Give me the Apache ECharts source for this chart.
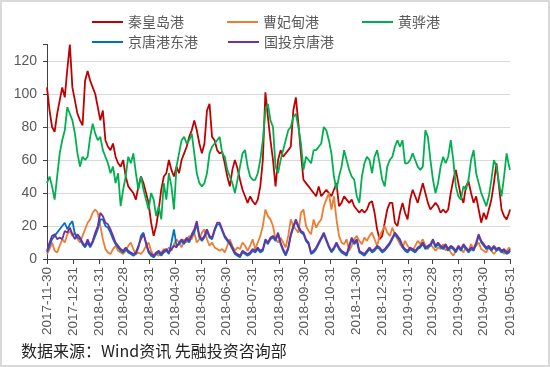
<!DOCTYPE html>
<html><head><meta charset="utf-8">
<script src="https://cdn.jsdelivr.net/npm/echarts@6/dist/echarts.min.js"></script>
<style>html,body{margin:0;padding:0;background:#fff}#c{width:550px;height:367px}</style>
</head><body><div id="c"></div>
<script>
// Series names (legend order)
const names = ['秦皇岛港', '曹妃甸港', '黄骅港', '京唐港东港', '国投京唐港'];
const colors = ['#C00000', '#ED7D31', '#00B050', '#0070C0', '#7030A0'];
// Daily axis from 2017-11-30 to 2019-05-31; values read every 3 days
const firstDay = [2017, 10, 30];
const lastDay = [2019, 4, 31];
const sampleStep = 3;

const qhd = [104,90,80,77,88,96,104,98,115,130,
104,96,88,84,81,108,114,108,104,100,
92,84,90,72,68,66,70,62,58,56,
60,50,44,42,40,36,44,50,46,40,
34,22,14,20,30,42,50,52,60,54,
50,56,52,60,64,68,74,78,84,78,
70,64,70,90,94,74,72,66,64,65,
58,50,44,54,60,55,48,42,38,34,
38,35,33,36,44,60,101,86,72,60,
44,60,66,62,64,66,68,90,98,82,
64,48,46,44,42,40,38,44,38,40,
42,40,38,42,46,32,34,38,36,34,
36,32,30,28,30,28,30,34,35,28,
18,12,14,22,30,34,34,22,20,28,
34,28,24,36,42,38,34,40,46,40,
34,30,32,34,32,28,30,28,30,40,
48,54,46,38,34,44,47,40,34,38,
30,22,28,24,30,36,46,58,44,30,
26,24,28,30];

const cfd = [3,6,10,5,4,8,12,10,15,17,
14,16,12,10,14,18,22,24,28,30,
28,20,12,6,4,3,6,8,5,4,
3,5,8,10,6,3,4,3,5,8,
10,5,2,3,2,4,6,5,7,5,
9,12,10,7,12,10,14,12,16,10,
12,16,18,12,8,10,7,6,5,6,
4,8,12,8,5,7,6,10,8,5,
8,12,6,10,14,20,30,26,24,20,
12,10,13,10,7,14,24,20,18,16,
28,30,20,17,15,24,19,22,24,32,
36,40,30,38,24,14,10,9,12,5,
8,12,14,11,9,13,11,14,16,12,
8,14,17,20,16,14,19,15,12,9,
7,11,8,6,5,8,11,9,12,8,
6,9,7,5,7,6,9,5,7,4,
2,5,8,6,4,7,5,9,6,8,
10,6,5,4,7,5,3,5,7,5,
3,5,7,6];

const hh = [46,50,44,36,50,64,72,78,92,88,
84,76,64,56,62,60,62,74,82,76,
72,74,66,62,58,52,56,46,52,32,
42,50,62,58,64,52,42,50,42,36,
30,40,36,26,32,24,46,36,52,44,
30,56,64,72,74,70,72,76,64,52,
46,44,46,52,64,68,70,72,74,64,
62,54,50,46,40,48,56,64,66,56,
50,48,48,52,60,72,90,94,84,80,
56,52,60,66,72,78,80,86,88,80,
70,54,62,60,58,66,66,68,70,80,
78,72,64,50,42,50,56,66,60,54,
50,48,38,34,50,58,62,60,52,62,
66,58,48,44,56,60,62,68,72,68,
72,58,58,60,64,60,56,54,56,78,
74,60,48,40,46,56,62,58,62,72,
60,44,38,36,44,42,48,60,66,52,
46,40,36,32,38,48,60,56,46,38,
50,64,56,54];

const jtdg = [4,8,12,14,16,18,20,22,18,21,
23,15,13,12,9,7,10,7,10,14,
18,24,24,20,19,16,12,9,7,5,
4,6,4,3,2,3,7,14,16,9,
4,2,1,3,4,2,4,5,3,10,
18,8,9,11,9,12,10,14,16,21,
13,11,13,17,13,12,17,21,21,17,
13,11,9,6,3,2,1,4,3,2,
3,5,4,6,4,5,11,9,12,13,
11,15,9,5,2,6,14,19,23,19,
16,15,11,9,3,4,6,9,12,15,
11,7,4,6,9,6,4,3,2,7,
12,9,11,4,3,2,4,6,4,5,
7,6,4,5,7,9,12,15,13,11,
7,5,4,6,5,4,6,7,9,6,
7,8,11,7,9,7,6,8,5,7,
6,4,7,5,8,6,4,6,5,9,
14,10,8,6,7,5,7,5,6,4,
5,3,4,5];

const gtjt = [5,10,14,15,12,13,12,17,16,19,
15,12,15,13,10,8,12,8,11,16,
20,28,26,22,21,18,14,10,8,6,
5,7,5,4,3,4,8,12,15,10,
5,3,2,4,5,3,5,6,4,6,
8,7,10,12,10,13,11,15,18,23,
14,12,14,18,14,13,18,22,22,18,
14,12,10,7,4,3,2,5,4,3,
4,6,5,7,5,6,12,10,13,14,
12,16,10,6,3,7,15,20,24,20,
17,16,12,10,4,5,7,10,13,16,
12,8,5,7,10,7,5,4,3,8,
13,10,12,5,4,3,5,7,5,6,
8,7,5,6,8,10,13,16,14,12,
8,6,5,7,6,5,7,8,10,7,
8,9,12,8,10,8,7,9,6,8,
7,5,8,6,9,7,5,7,6,10,
15,11,9,7,8,6,8,6,7,5,
6,4,5,6];

const yLabelMax = 120;
const footer = '数据来源：Wind资讯 先融投资咨询部';

// build daily categories
const cats = [];
{
  let t = Date.UTC(firstDay[0], firstDay[1], firstDay[2]);
  const endT = Date.UTC(lastDay[0], lastDay[1], lastDay[2]);
  while (t <= endT) { cats.push(new Date(t).toISOString().slice(0, 10)); t += 86400000; }
}
const isMonthEnd = (i) => i === cats.length - 1 || cats[i + 1].slice(8) === '01';
const toPairs = (vals) => vals.map((v, k) => [cats[Math.min(k * sampleStep, cats.length - 1)], v]);
const allVals = [qhd, cfd, hh, jtdg, gtjt];

const font = '"Liberation Sans", Arial, sans-serif';
const cjk = '"Noto Sans CJK SC", sans-serif';
const chart = echarts.init(document.getElementById('c'), null, { renderer: 'canvas' });
const legendBase = {
  icon: 'rect', itemWidth: 31, itemHeight: 2, left: 87,
  textStyle: { fontSize: 14, color: '#595959', fontFamily: cjk }
};
chart.setOption({
  animation: false,
  backgroundColor: '#fff',
  color: colors,
  legend: [
    Object.assign({}, legendBase, { top: 10, itemGap: 43, data: names.slice(0, 3) }),
    Object.assign({}, legendBase, { top: 30, itemGap: 30, data: names.slice(3) })
  ],
  grid: { left: 47, right: 40, top: 44.5, bottom: 108, containLabel: false },
  xAxis: {
    type: 'category', data: cats, boundaryGap: false,
    axisLine: { lineStyle: { color: '#404040', width: 1 } },
    axisTick: { interval: (i) => isMonthEnd(i), length: 5, lineStyle: { color: '#404040' } },
    axisLabel: { interval: (i) => isMonthEnd(i), rotate: 90, margin: 8, fontSize: 13.5, color: '#595959', fontFamily: font },
    splitLine: { show: false }
  },
  yAxis: {
    type: 'value', min: 0, max: 130, interval: 20,
    axisLine: { show: true, onZero: false, lineStyle: { color: '#404040', width: 1 } },
    axisTick: { show: true, length: 4, lineStyle: { color: '#404040' } },
    axisLabel: { formatter: (v) => (v > yLabelMax ? '' : String(v)), fontSize: 14, color: '#595959', fontFamily: font, margin: 10 },
    splitLine: { showMaxLine: false, lineStyle: { color: '#d9d9d9', width: 1 } }
  },
  series: names.map((n, i) => ({
    name: n, type: 'line', data: toPairs(allVals[i]), showSymbol: false, symbol: 'none',
    lineStyle: { width: 1.8, color: colors[i] }, itemStyle: { color: colors[i] }
  })),
  graphic: [
    { type: 'rect', shape: { x: 1, y: 1, width: 548, height: 365 }, style: { fill: 'none', stroke: '#d9d9d9', lineWidth: 2 }, silent: true },
    { type: 'text', left: 21, top: 343, style: { text: footer, fontSize: 16, fill: '#222', fontFamily: cjk } }
  ]
});
</script></body></html>
